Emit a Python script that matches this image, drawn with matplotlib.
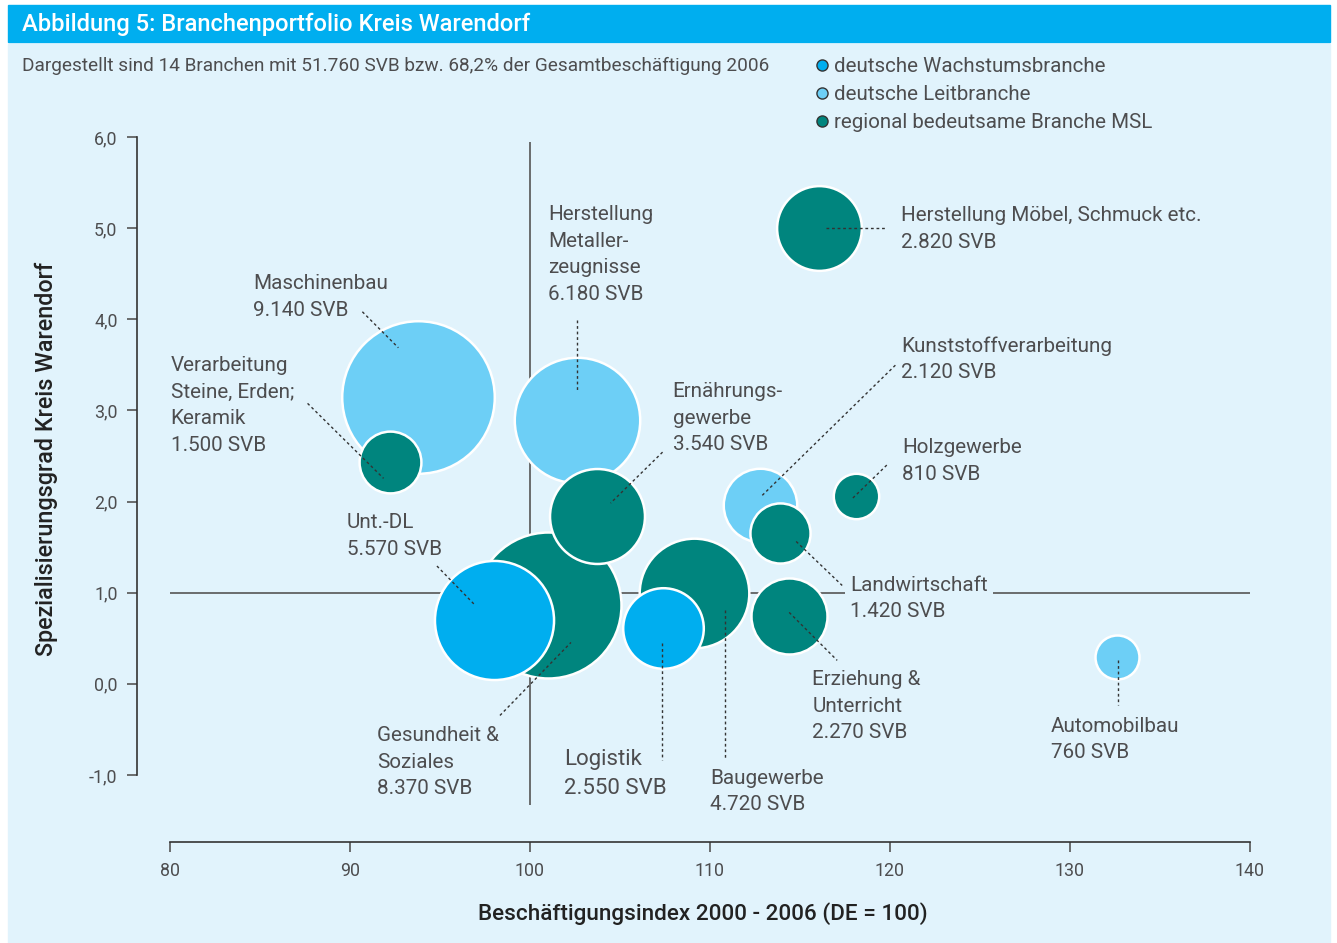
import matplotlib.pyplot as plt
from matplotlib.patches import Rectangle
from matplotlib.lines import Line2D
from matplotlib.ticker import FuncFormatter

plt.rcParams['font.family'] = ['Roboto', 'DejaVu Sans']

# Daten
branchen = ['Maschinenbau', 'Verarbeitung Steine', 'Herstellung Metallerzeugnisse',
            'Gesundheit & Soziales', 'Ernährungsgewerbe', 'Unt.-DL', 'Baugewerbe',
            'Logistik', 'Kunststoffverarbeitung', 'Landwirtschaft',
            'Erziehung & Unterricht', 'Holzgewerbe', 'Herstellung Möbel', 'Automobilbau']
beschaeftigungsindex = [93.8, 92.2, 102.6, 101.0, 103.7, 98.0, 109.1,
                        107.4, 112.8, 113.9, 114.4, 118.1, 116.05, 132.6]
spezialisierungsgrad = [3.15, 2.43, 2.9, 0.86, 1.84, 0.70, 1.0,
                        0.61, 1.96, 1.65, 0.74, 2.06, 5.0, 0.29]
svb = [9140, 1500, 6180, 8370, 3540, 5570, 4720, 2550, 2120, 1420, 2270, 810, 2820, 760]
typ = ['leit', 'msl', 'leit', 'msl', 'msl', 'wachstum', 'msl',
       'wachstum', 'leit', 'msl', 'msl', 'msl', 'msl', 'leit']
labels = ['Maschinenbau\n9.140 SVB',
          'Verarbeitung\nSteine, Erden;\nKeramik\n1.500 SVB',
          'Herstellung\nMetaller-\nzeugnisse\n6.180 SVB',
          'Gesundheit &\nSoziales\n8.370 SVB',
          'Ernährungs-\ngewerbe\n3.540 SVB',
          'Unt.-DL\n5.570 SVB',
          'Baugewerbe\n4.720 SVB',
          'Logistik\n2.550 SVB',
          'Kunststoffverarbeitung\n2.120 SVB',
          'Landwirtschaft\n1.420 SVB',
          'Erziehung &\nUnterricht\n2.270 SVB',
          'Holzgewerbe\n810 SVB',
          'Herstellung Möbel, Schmuck etc.\n2.820 SVB',
          'Automobilbau\n760 SVB']

y_ticks = [-1, 0, 1, 2, 3, 4, 5, 6]
x_ticks = [80, 90, 100, 110, 120, 130, 140]

# Layout: Beschriftungsversatz (Pixel) und Hinweislinien relativ zum Kreismittelpunkt
text_offsets = [(-165, 100), (-219, 57), (-29, 165), (-171, -157), (76, 98), (-147, 84),
                (16, -199), (-99, -146), (141, 146), (70, -65), (23, -90), (46, 35),
                (82, -1), (-66, -82)]
leader = [((-56, 85), (-20, 49)), ((-82, 59), (-6, -16)), ((0, 100), (0, 30)),
          ((-48, -110), (23, -37)), ((66, 64), (14, 13)), ((-57, 54), (-20, 16)),
          ((31, -17), (31, -167)), ((-1, -15), (-1, -132)), ((135, 140), (0, 8)),
          ((16, -8), (62, -52)), ((0, 4), (48, -44)), ((31, 31), (-3, -2)),
          ((7, 0), (68, 0)), ((1, -3), (1, -48))]

farben = {'wachstum': '#00AEEF', 'leit': '#6DCFF6', 'msl': '#00857E'}
text_col = '#4D4D4F'
bg = '#E1F3FC'

fig = plt.figure(figsize=(13.37, 9.43), dpi=100)
fig.patches.append(Rectangle((8 / 1337, 0), 1322 / 1337, 1 - 44 / 943,
                             transform=fig.transFigure, color=bg, zorder=-2))
fig.patches.append(Rectangle((8 / 1337, 1 - 42 / 943), 1322 / 1337, 37 / 943,
                             transform=fig.transFigure, color='#00AEEF', zorder=-2))
fig.text(22 / 1337, 1 - 24 / 943, 'Abbildung 5: Branchenportfolio Kreis Warendorf',
         color='white', fontsize=17.1, fontweight='medium', va='center')
fig.text(22 / 1337, 1 - 66 / 943,
         'Dargestellt sind 14 Branchen mit 51.760 SVB bzw. 68,2% der Gesamtbeschäftigung 2006',
         color=text_col, fontsize=13.7, va='center')

ax = fig.add_axes([0.10247, 0.10668, 0.84592, 0.76734])
ax.set_zorder(1)
ax.set_facecolor('none')
ax.set_xlim(78.17, 141)
ax.set_ylim(-1.74, 6.2)

ax.hlines(1, 80, 140, color='#555555', lw=1.2, zorder=1)
ax.vlines(100, -1.33, 5.95, color='#555555', lw=1.2, zorder=1)

for i in range(len(branchen)):
    ax.scatter(beschaeftigungsindex[i], spezialisierungsgrad[i], s=svb[i] * 1.32,
               color=farben[typ[i]], edgecolor='white', linewidth=1.8, zorder=2 + i * 0.01)

fig.canvas.draw()
trans = ax.transData
for i in range(len(branchen)):
    xy = (beschaeftigungsindex[i], spezialisierungsgrad[i])
    fs = 16 if branchen[i] == 'Logistik' else 14.9
    box = None
    if branchen[i] == 'Landwirtschaft':
        box = dict(boxstyle='square,pad=0.25', fc=bg, ec='none')
    ax.annotate(labels[i], xy=xy, xytext=text_offsets[i], textcoords='offset pixels',
                ha='left', va='center', fontsize=fs, color=text_col, linespacing=1.5,
                bbox=box, zorder=3)
    # Hinweislinie im Pixelraum relativ zum Kreis
    (x0, y0), (x1, y1) = leader[i]
    cx, cy = trans.transform(xy)
    p0 = trans.inverted().transform((cx + x0, cy + y0))
    p1 = trans.inverted().transform((cx + x1, cy + y1))
    ax.add_line(Line2D([p0[0], p1[0]], [p0[1], p1[1]], color='#333333', lw=1,
                       linestyle=(0, (2, 2)), zorder=4))

ax.spines['top'].set_visible(False)
ax.spines['right'].set_visible(False)
ax.spines['left'].set_bounds(-1, 6)
ax.spines['bottom'].set_bounds(80, 140)
for s in ['left', 'bottom']:
    ax.spines[s].set_color('#333333')
    ax.spines[s].set_linewidth(1.2)
ax.set_yticks(y_ticks)
ax.set_xticks(x_ticks)
ax.yaxis.set_major_formatter(FuncFormatter(lambda v, p: f'{v:.1f}'.replace('.', ',')))
ax.tick_params(axis='both', length=7, width=1.2, color='#555555', labelcolor=text_col,
               labelsize=12.8, pad=7)

ax.set_xlabel('Beschäftigungsindex 2000 - 2006 (DE = 100)', fontsize=16.2, fontweight='medium',
              color='#222222', labelpad=16)
ax.set_ylabel('Spezialisierungsgrad Kreis Warendorf', fontsize=16.8, fontweight='medium',
              color='#222222')
ax.yaxis.set_label_coords(-0.0698, 0.53)

handles = [Line2D([], [], marker='o', ls='none', ms=8, mfc=farben['wachstum'], mec='#333333'),
           Line2D([], [], marker='o', ls='none', ms=8, mfc=farben['leit'], mec='#333333'),
           Line2D([], [], marker='o', ls='none', ms=8, mfc=farben['msl'], mec='#333333')]
fig.legend(handles, ['deutsche Wachstumsbranche', 'deutsche Leitbranche',
                     'regional bedeutsame Branche MSL'],
           loc='upper left', bbox_to_anchor=(813 / 1337, 1 - 57 / 943), frameon=False,
           fontsize=14.8, labelcolor=text_col, handletextpad=0.1, handlelength=0.9,
           labelspacing=0.45, borderpad=0, borderaxespad=0)

fig.savefig('out.png', dpi=100)
